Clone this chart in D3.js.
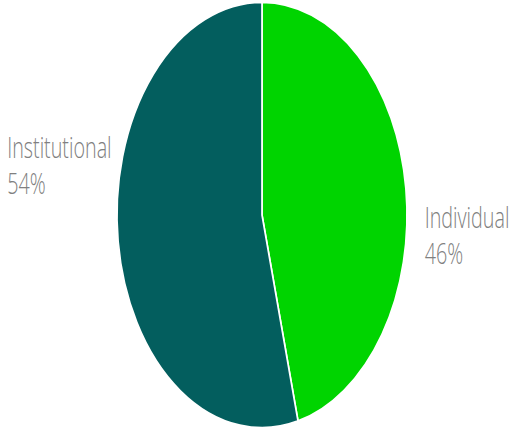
<!DOCTYPE html>
<html>
<head>
<meta charset="utf-8">
<script src="https://cdn.jsdelivr.net/npm/d3@7"></script>
<style>
  html, body { margin: 0; padding: 0; background: #fff; }
  svg { display: block; }
</style>
</head>
<body>
<div id="chart"></div>
<script>
const categories = ['Individual', 'Institutional'];
const shares = [46, 54];
const sliceColors = ['#00d400', '#035e5e'];

const width = 511;
const height = 434;
const radius = 213;
const sx = 145 / 213; // chart is squeezed horizontally

const svg = d3.select("#chart")
    .append("svg")
    .attr("width", width)
    .attr("height", height);

// everything drawn in a horizontally squeezed frame
const g = svg.append("g")
    .attr("transform", `scale(${sx},1)`);

const cx = 262 / sx;
const cy = 215;

const pie = d3.pie().sort(null).value(d => d.value);
const arc = d3.arc().innerRadius(0).outerRadius(radius);

const data = categories.map((c, i) => ({ name: c, value: shares[i], color: sliceColors[i] }));

const slices = g.append("g")
    .attr("transform", `translate(${cx},${cy})`);

slices.selectAll("path")
    .data(pie(data))
    .enter()
    .append("path")
    .attr("d", arc)
    .attr("fill", d => d.data.color)
    .attr("stroke", "#fff")
    .attr("stroke-width", 2.5)
    .attr("stroke-linejoin", "round");

// labels: right side for first slice, left side for second
const labelPos = [
    { x: cx + radius + 26, y: 228, anchor: "start" },
    { x: cx - radius - 8, y: 158, anchor: "end" }
];

const fontSize = 29;
const lineGap = 36;

const labelGroups = g.append("g")
    .selectAll("g")
    .data(data)
    .enter()
    .append("g");

labelGroups.each(function(d, i) {
    const grp = d3.select(this);
    const name = grp.append("text")
        .attr("x", labelPos[i].x)
        .attr("y", labelPos[i].y)
        .attr("font-family", "'Open Sans', sans-serif")
        .attr("font-weight", 300)
        .attr("font-size", fontSize)
        .attr("fill", "#808080")
        .text(d.name);
    let x0 = labelPos[i].x;
    if (labelPos[i].anchor === "end") {
        x0 = labelPos[i].x - name.node().getComputedTextLength();
        name.attr("x", x0);
    }
    grp.append("text")
        .attr("x", x0)
        .attr("y", labelPos[i].y + lineGap)
        .attr("font-family", "'Open Sans', sans-serif")
        .attr("font-weight", 300)
        .attr("font-size", fontSize)
        .attr("fill", "#808080")
        .text(d.value + "%");
});
</script>
</body>
</html>
